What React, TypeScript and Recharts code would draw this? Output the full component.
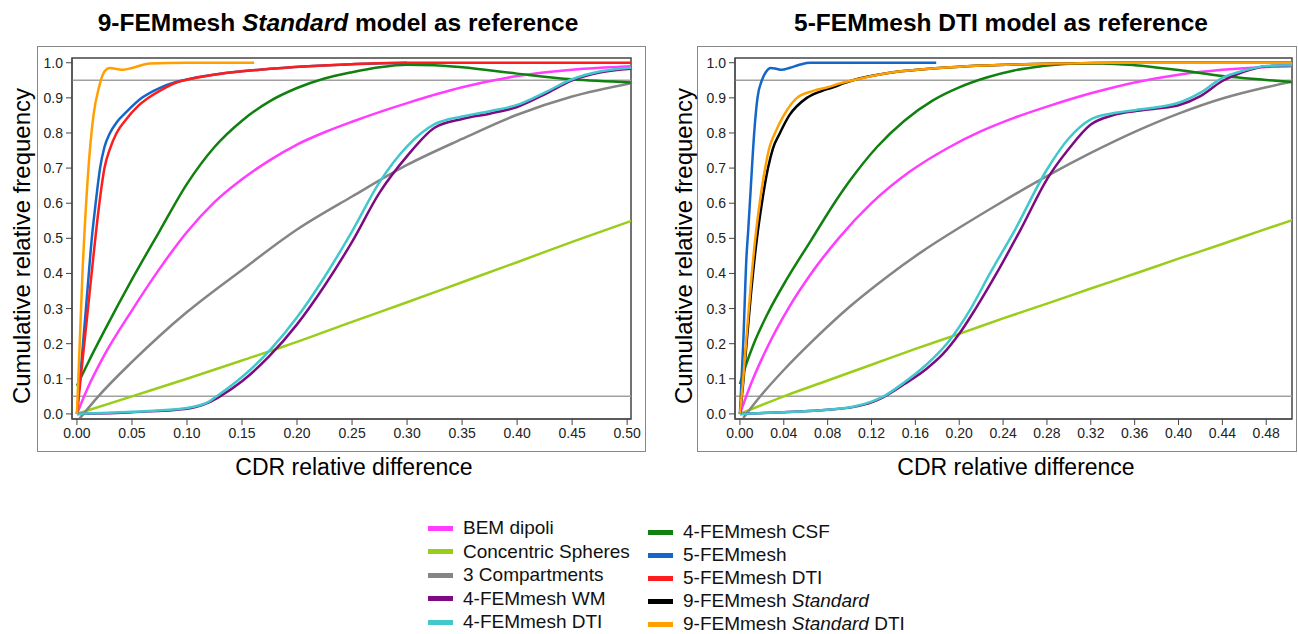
import { LineChart, Line, XAxis, YAxis, ReferenceLine, ReferenceArea } from 'recharts'

type Pt = [number, number]

// left panel: 9-FEMmesh Standard as reference
const leftBem: Pt[] = [[0, 0], [0.01, 0.075], [0.025, 0.168], [0.05, 0.295], [0.075, 0.413], [0.1, 0.518], [0.125, 0.603], [0.15, 0.668], [0.175, 0.722], [0.2, 0.767], [0.225, 0.802], [0.25, 0.832], [0.3, 0.885], [0.35, 0.93], [0.4, 0.962], [0.45, 0.98], [0.504, 0.99]]
const leftSpheres: Pt[] = [[0, 0], [0.05, 0.05], [0.1, 0.1], [0.15, 0.152], [0.2, 0.205], [0.25, 0.262], [0.3, 0.318], [0.35, 0.375], [0.4, 0.432], [0.45, 0.49], [0.504, 0.55]]
const leftComp3: Pt[] = [[0.002, -0.015], [0.02, 0.052], [0.05, 0.148], [0.075, 0.222], [0.1, 0.29], [0.15, 0.41], [0.2, 0.525], [0.25, 0.619], [0.3, 0.709], [0.35, 0.783], [0.4, 0.852], [0.45, 0.904], [0.504, 0.942]]
const leftWm: Pt[] = [[0, 0], [0.05, 0.005], [0.1, 0.015], [0.12, 0.033], [0.13, 0.05], [0.15, 0.093], [0.175, 0.165], [0.2, 0.255], [0.225, 0.365], [0.25, 0.49], [0.275, 0.63], [0.3, 0.734], [0.325, 0.815], [0.35, 0.84], [0.375, 0.855], [0.4, 0.874], [0.425, 0.91], [0.45, 0.95], [0.475, 0.972], [0.504, 0.983]]
const leftDti4: Pt[] = [[0, 0], [0.05, 0.006], [0.1, 0.017], [0.12, 0.035], [0.127, 0.05], [0.15, 0.105], [0.175, 0.18], [0.2, 0.275], [0.225, 0.39], [0.25, 0.52], [0.275, 0.66], [0.3, 0.762], [0.325, 0.825], [0.35, 0.847], [0.375, 0.862], [0.4, 0.88], [0.425, 0.915], [0.45, 0.953], [0.475, 0.975], [0.504, 0.986]]
const leftCsf: Pt[] = [[0, 0.08], [0.01, 0.145], [0.025, 0.237], [0.05, 0.383], [0.075, 0.52], [0.1, 0.655], [0.125, 0.76], [0.15, 0.835], [0.175, 0.89], [0.2, 0.928], [0.225, 0.955], [0.25, 0.973], [0.275, 0.987], [0.3, 0.994], [0.325, 0.993], [0.35, 0.987], [0.4, 0.969], [0.45, 0.953], [0.504, 0.944]]
const leftFem5: Pt[] = [[0, 0], [0.005, 0.18], [0.01, 0.37], [0.0135, 0.5], [0.017, 0.6], [0.021, 0.7], [0.025, 0.76], [0.03, 0.8], [0.036, 0.83], [0.045, 0.86], [0.059, 0.9], [0.075, 0.928], [0.09, 0.945], [0.105, 0.956], [0.129, 0.968], [0.166, 0.98], [0.21, 0.99], [0.25, 0.996], [0.3, 1.0]]
const leftFem5Dti: Pt[] = [[0, 0], [0.005, 0.15], [0.01, 0.3], [0.015, 0.45], [0.02, 0.59], [0.025, 0.7], [0.03, 0.755], [0.036, 0.8], [0.045, 0.84], [0.055, 0.875], [0.065, 0.9], [0.078, 0.925], [0.09, 0.943], [0.105, 0.955], [0.129, 0.968], [0.166, 0.98], [0.21, 0.99], [0.25, 0.996], [0.3, 1.0], [0.504, 1.0]]
const leftStdDti: Pt[] = [[0, 0], [0.005, 0.4], [0.01, 0.68], [0.015, 0.85], [0.02, 0.93], [0.025, 0.975], [0.03, 0.985], [0.035, 0.983], [0.042, 0.98], [0.05, 0.985], [0.066, 0.998], [0.1, 1.0], [0.161, 1.0]]

// right panel: 5-FEMmesh DTI as reference
const rightBem: Pt[] = [[0, 0], [0.01, 0.085], [0.025, 0.19], [0.045, 0.305], [0.065, 0.4], [0.09, 0.5], [0.12, 0.6], [0.155, 0.69], [0.19, 0.758], [0.22, 0.805], [0.25, 0.843], [0.28, 0.875], [0.32, 0.913], [0.36, 0.944], [0.4, 0.966], [0.44, 0.98], [0.48, 0.988], [0.504, 0.99]]
const rightSpheres: Pt[] = [[0, 0], [0.04, 0.05], [0.08, 0.095], [0.12, 0.14], [0.16, 0.185], [0.2, 0.228], [0.24, 0.272], [0.28, 0.314], [0.32, 0.357], [0.36, 0.399], [0.4, 0.442], [0.44, 0.484], [0.48, 0.527], [0.504, 0.552]]
const rightComp3: Pt[] = [[0.003, -0.012], [0.018, 0.048], [0.04, 0.125], [0.067, 0.21], [0.1, 0.305], [0.134, 0.39], [0.165, 0.46], [0.2, 0.53], [0.237, 0.6], [0.28, 0.677], [0.32, 0.743], [0.36, 0.803], [0.4, 0.855], [0.44, 0.898], [0.48, 0.93], [0.504, 0.946]]
const rightWm: Pt[] = [[0, 0], [0.04, 0.005], [0.08, 0.012], [0.104, 0.02], [0.12, 0.033], [0.131, 0.048], [0.15, 0.085], [0.17, 0.128], [0.185, 0.17], [0.2, 0.228], [0.215, 0.3], [0.234, 0.4], [0.256, 0.525], [0.28, 0.668], [0.3, 0.755], [0.32, 0.824], [0.34, 0.85], [0.36, 0.862], [0.38, 0.87], [0.4, 0.879], [0.42, 0.905], [0.44, 0.948], [0.46, 0.975], [0.48, 0.99], [0.504, 0.993]]
const rightDti4: Pt[] = [[0, 0], [0.04, 0.005], [0.08, 0.012], [0.104, 0.021], [0.12, 0.035], [0.131, 0.05], [0.15, 0.09], [0.17, 0.14], [0.18, 0.17], [0.19, 0.205], [0.21, 0.297], [0.228, 0.4], [0.251, 0.525], [0.28, 0.696], [0.3, 0.785], [0.32, 0.839], [0.34, 0.856], [0.36, 0.865], [0.38, 0.873], [0.4, 0.886], [0.42, 0.915], [0.44, 0.957], [0.46, 0.978], [0.48, 0.991], [0.504, 0.993]]
const rightCsf: Pt[] = [[0, 0.085], [0.005, 0.135], [0.012, 0.195], [0.026, 0.29], [0.043, 0.385], [0.065, 0.495], [0.085, 0.595], [0.1, 0.663], [0.125, 0.76], [0.15, 0.835], [0.176, 0.893], [0.2, 0.93], [0.225, 0.958], [0.25, 0.978], [0.275, 0.99], [0.306, 0.998], [0.33, 0.998], [0.36, 0.993], [0.4, 0.979], [0.44, 0.962], [0.48, 0.951], [0.504, 0.945]]
const rightFem5: Pt[] = [[0, 0], [0.003, 0.2], [0.006, 0.45], [0.0076, 0.525], [0.01, 0.65], [0.013, 0.8], [0.016, 0.9], [0.02, 0.95], [0.024, 0.975], [0.028, 0.985], [0.033, 0.983], [0.038, 0.98], [0.045, 0.985], [0.055, 0.995], [0.064, 1.0], [0.1, 1.0], [0.179, 1.0]]
const rightStd: Pt[] = [[0, 0], [0.003, 0.09], [0.006, 0.2], [0.01, 0.34], [0.0155, 0.5], [0.02, 0.6], [0.0256, 0.7], [0.03, 0.755], [0.0365, 0.8], [0.045, 0.85], [0.061, 0.9], [0.075, 0.92], [0.085, 0.93], [0.095, 0.942], [0.103, 0.95], [0.134, 0.97], [0.17, 0.982], [0.207, 0.99], [0.25, 0.995], [0.3, 0.998], [0.35, 1.0], [0.504, 1.0]]
const rightStdDti: Pt[] = [[0, 0], [0.003, 0.1], [0.006, 0.22], [0.01, 0.37], [0.014, 0.5], [0.018, 0.6], [0.023, 0.7], [0.027, 0.76], [0.032, 0.8], [0.04, 0.85], [0.052, 0.9], [0.067, 0.92], [0.08, 0.93], [0.09, 0.94], [0.103, 0.95], [0.134, 0.97], [0.17, 0.982], [0.207, 0.99], [0.25, 0.995], [0.3, 0.998], [0.35, 1.0], [0.504, 1.0]]

const yTicks = [0, 0.1, 0.2, 0.3, 0.4, 0.5, 0.6, 0.7, 0.8, 0.9, 1.0]
const leftXTicks = [0, 0.05, 0.1, 0.15, 0.2, 0.25, 0.3, 0.35, 0.4, 0.45, 0.5]
const rightXTicks = [0, 0.04, 0.08, 0.12, 0.16, 0.2, 0.24, 0.28, 0.32, 0.36, 0.4, 0.44, 0.48]

const C = {
  bem: '#ff3cff',
  spheres: '#9acd1a',
  comp3: '#858585',
  wm: '#7d0a82',
  dti4: '#40c8cc',
  csf: '#10800f',
  fem5: '#1466c8',
  fem5dti: '#ff1c1c',
  std: '#000000',
  stddti: '#ffa000',
}

const X_DOMAIN = [-0.0045, 0.5035]
const Y_DOMAIN = [-0.0145, 1.0135]
const FONT = '"Liberation Sans", Arial, sans-serif'

const toRows = (pts: Pt[]) => pts.map(([x, y]) => ({ x, y }))

interface SeriesDef { key: string; pts: Pt[]; color: string }

function Panel({ series, xTicks, width, marginLeft, marginRight }: {
  series: SeriesDef[]; xTicks: number[]; width: number; marginLeft: number; marginRight: number
}) {
  return (
    <LineChart width={width} height={460} margin={{ top: 58, right: marginRight, left: marginLeft, bottom: 11 }}>
      <XAxis
        type="number"
        dataKey="x"
        domain={X_DOMAIN}
        allowDataOverflow
        ticks={xTicks}
        tickFormatter={(v: number) => v.toFixed(2)}
        height={30}
        interval={0}
        tickSize={6}
        tickMargin={3}
        stroke="#444"
        tick={{ fontSize: 14, fill: '#222', fontFamily: '"Liberation Sans Narrow", "Liberation Sans", Arial, sans-serif' }}
      />
      <YAxis
        type="number"
        domain={Y_DOMAIN}
        allowDataOverflow
        ticks={yTicks}
        tickFormatter={(v: number) => v.toFixed(1)}
        width={40}
        interval={0}
        tickSize={6}
        tickMargin={3}
        stroke="#444"
        tick={{ fontSize: 14, fill: '#222', fontFamily: FONT }}
      />
      <ReferenceLine y={0.95} stroke="#a0a0a0" strokeWidth={1.5} />
      <ReferenceLine y={0.05} stroke="#a0a0a0" strokeWidth={1.5} />
      {series.map((s) => (
        <Line
          key={s.key}
          data={toRows(s.pts)}
          dataKey="y"
          type="monotone"
          stroke={s.color}
          strokeWidth={2.5}
          dot={false}
          activeDot={false}
          isAnimationActive={false}
        />
      ))}
      <ReferenceArea x1={X_DOMAIN[0]} x2={X_DOMAIN[1]} y1={Y_DOMAIN[0]} y2={Y_DOMAIN[1]} fill="none" stroke="#444" strokeWidth={1.5} ifOverflow="visible" />
    </LineChart>
  )
}

const leftSeries: SeriesDef[] = [
  { key: 'bem', pts: leftBem, color: C.bem },
  { key: 'spheres', pts: leftSpheres, color: C.spheres },
  { key: 'comp3', pts: leftComp3, color: C.comp3 },
  { key: 'csf', pts: leftCsf, color: C.csf },
  { key: 'wm', pts: leftWm, color: C.wm },
  { key: 'dti4', pts: leftDti4, color: C.dti4 },
  { key: 'fem5', pts: leftFem5, color: C.fem5 },
  { key: 'fem5dti', pts: leftFem5Dti, color: C.fem5dti },
  { key: 'stddti', pts: leftStdDti, color: C.stddti },
]

const rightSeries: SeriesDef[] = [
  { key: 'bem', pts: rightBem, color: C.bem },
  { key: 'spheres', pts: rightSpheres, color: C.spheres },
  { key: 'comp3', pts: rightComp3, color: C.comp3 },
  { key: 'csf', pts: rightCsf, color: C.csf },
  { key: 'wm', pts: rightWm, color: C.wm },
  { key: 'dti4', pts: rightDti4, color: C.dti4 },
  { key: 'fem5', pts: rightFem5, color: C.fem5 },
  { key: 'std', pts: rightStd, color: C.std },
  { key: 'stddti', pts: rightStdDti, color: C.stddti },
]

const legendCol1 = [
  { label: 'BEM dipoli', color: C.bem },
  { label: 'Concentric Spheres', color: C.spheres },
  { label: '3 Compartments', color: C.comp3 },
  { label: '4-FEMmesh WM', color: C.wm },
  { label: '4-FEMmesh DTI', color: C.dti4 },
]
const legendCol2 = [
  { label: <>4-FEMmesh CSF</>, color: C.csf },
  { label: <>5-FEMmesh</>, color: C.fem5 },
  { label: <>5-FEMmesh DTI</>, color: C.fem5dti },
  { label: <>9-FEMmesh <i>Standard</i></>, color: C.std },
  { label: <>9-FEMmesh <i>Standard</i> DTI</>, color: C.stddti },
]

const abs = (left: number, top: number, extra: React.CSSProperties = {}): React.CSSProperties => ({ position: 'absolute', left, top, ...extra })

function LegendCol({ items, left, top, step }: { items: { label: React.ReactNode; color: string }[]; left: number; top: number; step: number }) {
  return (
    <>
      {items.map((it, i) => (
        <div key={i} style={abs(left, top + i * step - 12, { height: 24, display: 'flex', alignItems: 'center', whiteSpace: 'nowrap' })}>
          <span style={{ display: 'inline-block', width: 25, height: 5, background: it.color, marginRight: 10 }} />
          <span style={{ fontSize: 19, color: '#111' }}>{it.label}</span>
        </div>
      ))}
    </>
  )
}

const titleStyle: React.CSSProperties = { fontSize: 24.5, fontWeight: 'bold', color: '#000', whiteSpace: 'nowrap', transform: 'translate(-50%, -50%)' }
const xLabelStyle: React.CSSProperties = { fontSize: 23, color: '#000', whiteSpace: 'nowrap', transform: 'translate(-50%, -50%)' }
const yLabelStyle: React.CSSProperties = { fontSize: 24, color: '#000', whiteSpace: 'nowrap', transform: 'translate(-50%, -50%) rotate(-90deg)' }

export default function App() {
  return (
    <div style={{ position: 'absolute', left: 0, top: 0, width: 1298, height: 634, overflow: 'hidden', background: '#fff', fontFamily: FONT }}>
      <div style={abs(37, 46, { width: 609, height: 406, border: '1.5px solid #888', boxSizing: 'border-box' })} />
      <div style={abs(697, 46, { width: 600, height: 406, border: '1.5px solid #888', boxSizing: 'border-box' })} />

      <div style={abs(338, 23, titleStyle)}>9-FEMmesh <i>Standard</i> model as reference</div>
      <div style={abs(1001, 23, titleStyle)}>5-FEMmesh DTI model as reference</div>

      <div style={abs(0, 0)}>
        <Panel series={leftSeries} xTicks={leftXTicks} width={650} marginLeft={32} marginRight={19} />
      </div>
      <div style={abs(660, 0)}>
        <Panel series={rightSeries} xTicks={rightXTicks} width={638} marginLeft={35} marginRight={6} />
      </div>

      <div style={abs(22, 246, yLabelStyle)}>Cumulative relative frequency</div>
      <div style={abs(684, 246, yLabelStyle)}>Cumulative relative frequency</div>
      <div style={abs(354, 467, xLabelStyle)}>CDR relative difference</div>
      <div style={abs(1016, 467, xLabelStyle)}>CDR relative difference</div>

      <LegendCol items={legendCol1} left={428} top={528} step={23.5} />
      <LegendCol items={legendCol2} left={648} top={532} step={23} />
    </div>
  )
}
